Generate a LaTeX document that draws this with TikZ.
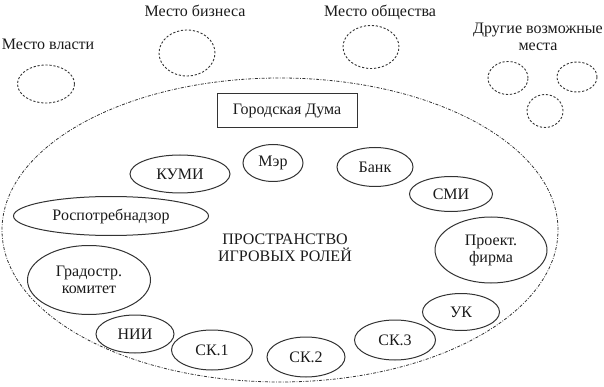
\documentclass[tikz,border=0pt]{standalone}
\usepackage{fontspec}
\setmainfont{LiberationSerif-Regular.ttf}
\usetikzlibrary{shapes.geometric}
\definecolor{cline}{HTML}{333333}
\definecolor{ctext}{HTML}{1A1A1A}
\tikzset{
  every picture/.style={font=\fontsize{16}{17}\selectfont, line width=1pt, x=1pt, y=-1pt},
  place/.style 2 args={ellipse, draw=cline, dash pattern=on 2.2pt off 1.8pt, line width=0.9pt, minimum width=#1pt, minimum height=#2pt, inner sep=0pt},
  role/.style 2 args={ellipse, draw=cline, text=ctext, align=center, minimum width=#1pt, minimum height=#2pt, inner sep=0pt},
  caption/.style={text=ctext, align=center},
}

\begin{document}
\begin{tikzpicture}
  \useasboundingbox (0,0) rectangle (604,387);
  % places around the space
  \node[caption] (powerlbl) at (48,44) {Место власти};
  \node[place={57}{38}] (power) at (46,84) {};
  \node[caption] (businesslbl) at (195,11) {Место бизнеса};
  \node[place={56}{46}] (business) at (187,53) {};
  \node[caption] (societylbl) at (380,12) {Место общества};
  \node[place={56}{43}] (society) at (371,47) {};
  \node[caption] (otherlbl) at (538,37) {Другие возможные\\места};
  \node[place={40}{33}] (other1) at (508,78) {};
  \node[place={40}{30}] (other2) at (577,77) {};
  \node[place={36}{33}] (other3) at (545,111) {};
  % the space of roles
  \node[ellipse, draw=cline, dash pattern=on 3pt off 1.5pt on 0.8pt off 1.5pt, line width=0.8pt, minimum width=556pt, minimum height=304pt] (space) at (280,230) {};
  \node[caption] (spacelbl) at (285,248) {ПРОСТРАНСТВО\\ИГРОВЫХ РОЛЕЙ};
  \node[draw=cline, text=ctext, minimum width=140pt, minimum height=34pt] (duma) at (287,111) {Городская Дума};
  \node[role={100}{38}] (kumi) at (180,174) {КУМИ};
  \node[role={60}{37}] (mayor) at (273,163) {Мэр};
  \node[role={76}{39}] (bank) at (375,167) {Банк};
  \node[role={83}{35}] (smi) at (451,194) {СМИ};
  \node[role={112}{66}] (firm) at (491,250) {Проект.\\фирма};
  \node[role={77}{37}] (uk) at (461,312) {УК};
  \node[role={81}{40}] (sk3) at (395,340) {СК.3};
  \node[role={78}{40}] (sk2) at (306,357) {СК.2};
  \node[role={81}{40}] (sk1) at (212,350) {СК.1};
  \node[role={78}{38}] (nii) at (135,334) {НИИ};
  \node[role={123}{69}] (grad) at (89,280) {Градостр.\\комитет};
  \node[role={195}{39}] (rpn) at (111,216) {Роспотребнадзор};
\end{tikzpicture}
\end{document}
